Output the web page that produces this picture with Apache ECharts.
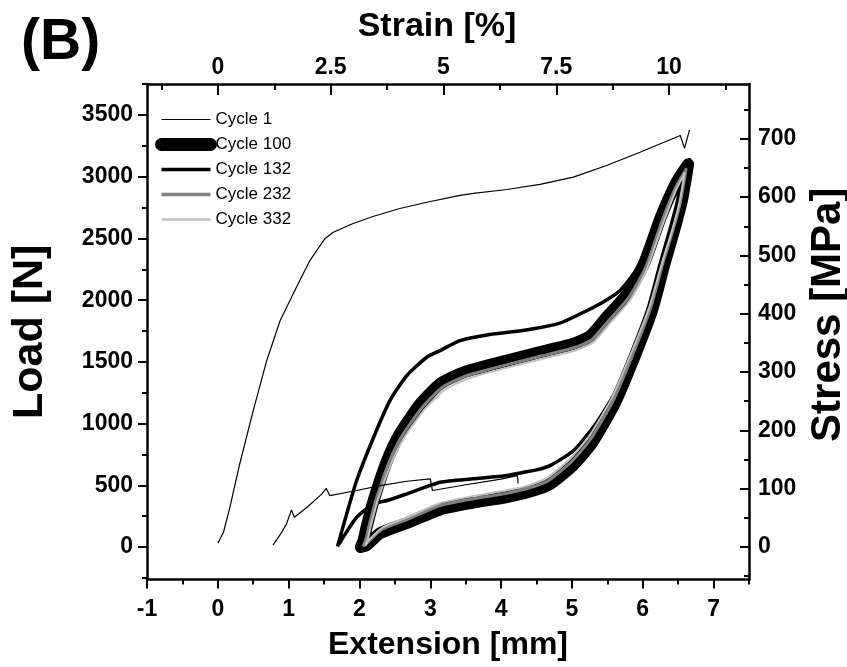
<!DOCTYPE html>
<html><head><meta charset="utf-8">
<script src="https://cdn.jsdelivr.net/npm/echarts@6/dist/echarts.min.js"></script>
<style>html,body{margin:0;padding:0;background:#fff}#c{width:847px;height:667px}</style>
</head><body><div id="c"></div>
<script>
// ---- tick labels ----
const extTicks = [-1, 0, 1, 2, 3, 4, 5, 6, 7];
const extMinor = [-0.5, 0.5, 1.5, 2.5, 3.5, 4.5, 5.5, 6.5, 7.5];
const strainTicks = [0, 2.5, 5, 7.5, 10];
const strainMinor = [-1.25, 1.25, 3.75, 6.25, 8.75, 11.25];
const loadTicks = [0, 500, 1000, 1500, 2000, 2500, 3000, 3500];
const loadMinor = [-250, 250, 750, 1250, 1750, 2250, 2750, 3250, 3750];
const stressTicks = [0, 100, 200, 300, 400, 500, 600, 700];
const stressMinor = [-50, 50, 150, 250, 350, 450, 550, 650, 750];

// ---- series names ----
const seriesNames = ['Cycle 1', 'Cycle 100', 'Cycle 132', 'Cycle 232', 'Cycle 332'];

// ---- data: [extension mm, load N] ----
const cycle1 = [[0.00,30],[0.08,120],[0.17,322],[0.31,675],[0.50,1105],[0.69,1510],[0.88,1836],[1.11,2105],[1.30,2321],[1.51,2498],[1.63,2551],[1.91,2622],[2.19,2678],[2.57,2743],[2.95,2794],[3.42,2849],[3.61,2865],[4.08,2897],[4.55,2938],[5.02,2997],[5.49,3092],[5.96,3199],[6.53,3335],[6.59,3230],[6.66,3381]];
const cycle1b = [[0.78,15],[0.88,100],[0.97,188],[1.04,301],[1.08,241],[1.26,322],[1.47,431],[1.53,476],[1.58,417],[1.96,458],[2.29,498],[2.67,533],[3.00,553],[3.03,458],[3.50,505],[4.00,550],[4.23,578],[4.24,515]];
const cycle100 = [[2.02,0],[2.06,60],[2.10,160],[2.20,377],[2.39,701],[2.57,917],[2.86,1160],[3.14,1323],[3.42,1404],[3.61,1440],[4.08,1511],[4.55,1579],[5.02,1647],[5.26,1710],[5.49,1862],[5.78,2052],[6.02,2300],[6.26,2680],[6.48,2960],[6.64,3100],
  [6.55,2800],[6.44,2560],[6.31,2300],[6.13,1917],[5.89,1552],[5.61,1171],[5.29,850],[5.02,665],[4.69,510],[4.41,450],[4.08,405],[3.61,360],[3.14,305],[2.67,195],[2.29,112],[2.10,15],[2.02,0]];
const cycle132 = [[1.69,5],[1.82,269],[1.96,539],[2.20,890],[2.43,1187],[2.67,1390],[2.95,1538],[3.14,1592],[3.42,1673],[3.84,1722],[4.31,1754],[4.83,1814],[5.12,1890],[5.40,1971],[5.68,2079],[5.96,2290],[6.20,2640],[6.45,2950],[6.66,3140],
  [6.52,2800],[6.39,2500],[6.20,2080],[5.96,1700],[5.68,1320],[5.35,1010],[5.02,780],[4.69,660],[4.50,625],[4.36,610],[4.08,580],[3.61,553],[3.14,525],[2.67,431],[2.39,377],[2.20,350],[1.96,241],[1.77,79],[1.69,5]];
const cycle232 = [[2.05,5],[2.09,60],[2.13,160],[2.23,377],[2.42,690],[2.60,900],[2.89,1135],[3.17,1295],[3.45,1375],[3.64,1410],[4.10,1480],[4.57,1548],[5.04,1617],[5.28,1680],[5.51,1830],[5.80,2020],[6.04,2265],[6.27,2640],[6.47,2920],[6.61,3060],
  [6.53,2790],[6.42,2555],[6.29,2310],[6.11,1935],[5.87,1575],[5.59,1195],[5.27,880],[5.00,695],[4.67,540],[4.40,480],[4.07,435],[3.60,390],[3.13,335],[2.68,225],[2.31,140],[2.12,40],[2.05,5]];
const cycle332 = [[2.08,10],[2.12,70],[2.16,170],[2.26,380],[2.45,680],[2.63,885],[2.92,1115],[3.20,1272],[3.48,1352],[3.66,1388],[4.12,1458],[4.59,1526],[5.06,1595],[5.30,1660],[5.53,1810],[5.82,2000],[6.05,2240],[6.28,2610],[6.46,2880],[6.59,3030],
  [6.51,2770],[6.40,2540],[6.27,2300],[6.09,1940],[5.85,1590],[5.57,1215],[5.25,905],[4.98,720],[4.66,565],[4.39,500],[4.06,458],[3.60,412],[3.13,355],[2.69,245],[2.33,160],[2.14,60],[2.08,10]];

const FONT = 'Liberation Sans';
const lblStyle = {fontFamily: FONT, fontWeight: 'bold', fontSize: 23, color: '#000', formatter: v => String(v)};
const hNameStyle = {fontFamily: FONT, fontWeight: 'bold', fontSize: 32, color: '#000'};
const vNameStyle = {fontFamily: FONT, fontWeight: 'bold', fontSize: 42, color: '#000'};
const lineAx = {show: true, onZero: false, lineStyle: {color: '#000', width: 2.5}};
const tickStyle = {color: '#000', width: 2};

function minorAxis(extra) {
  return Object.assign({
    type: 'value', gridIndex: 0,
    axisLine: {show: false, onZero: false}, splitLine: {show: false},
    axisLabel: {show: false}
  }, extra);
}

const chart = echarts.init(document.getElementById('c'), null, {renderer: 'canvas'});
chart.setOption({
  animation: false,
  backgroundColor: '#fff',
  grid: {left: 147, right: 98, top: 84, bottom: 87.5, containLabel: false, outerBoundsMode: 'none'},
  graphic: [{type: 'text', left: 21, top: 15, style: {text: '(B)', font: 'bold 57px "Liberation Sans"', fill: '#000'}}],
  legend: {
    data: [
      {name: 'Cycle 1', lineStyle: {width: 1.2, color: '#000'}},
      {name: 'Cycle 100', lineStyle: {width: 13, color: '#000', cap: 'round'}},
      {name: 'Cycle 132', lineStyle: {width: 3.5, color: '#000'}},
      {name: 'Cycle 232', lineStyle: {width: 3.5, color: '#808080'}},
      {name: 'Cycle 332', lineStyle: {width: 2.5, color: '#c0c0c0'}}
    ],
    left: 155, top: 111, orient: 'vertical', padding: 0,
    itemWidth: 49, itemHeight: 14, itemGap: 8,
    itemStyle: {opacity: 0, color: 'rgba(0,0,0,0)', borderWidth: 0},
    textStyle: {fontFamily: FONT, fontSize: 17, color: '#000'}
  },
  xAxis: [
    {type: 'value', position: 'bottom', min: -1, max: 7.5,
     name: 'Extension [mm]', nameLocation: 'middle', nameGap: 50, nameTextStyle: hNameStyle,
     axisLine: lineAx, splitLine: {show: false},
     axisTick: {show: true, length: 9, customValues: extTicks, lineStyle: tickStyle},
     axisLabel: Object.assign({customValues: extTicks, margin: 19}, lblStyle)},
    {type: 'value', position: 'top', min: -1.57, max: 11.77,
     name: 'Strain [%]', nameLocation: 'middle', nameGap: 40,
     nameTextStyle: Object.assign({}, hNameStyle, {fontSize: 34, padding: [0, 22, 0, 0]}),
     axisLine: lineAx, splitLine: {show: false},
     axisTick: {show: true, inside: true, length: 11, customValues: strainTicks, lineStyle: tickStyle},
     axisLabel: Object.assign({customValues: strainTicks, margin: 5}, lblStyle)},
    minorAxis({position: 'bottom', min: -1, max: 7.5, axisTick: {show: true, length: 5, customValues: extMinor, lineStyle: tickStyle}}),
    minorAxis({position: 'top', min: -1.57, max: 11.77, axisTick: {show: true, inside: true, length: 6, customValues: strainMinor, lineStyle: tickStyle}})
  ],
  yAxis: [
    {type: 'value', position: 'left', min: -263, max: 3752,
     name: 'Load [N]', nameLocation: 'middle', nameGap: 95, nameRotate: 90, nameTextStyle: Object.assign({}, vNameStyle, {fontSize: 43}),
     axisLine: lineAx, splitLine: {show: false},
     axisTick: {show: true, length: 9, customValues: loadTicks, lineStyle: tickStyle},
     axisLabel: Object.assign({customValues: loadTicks, margin: 14}, lblStyle)},
    {type: 'value', position: 'right', min: -55.7, max: 794,
     name: 'Stress [MPa]', nameLocation: 'middle', nameGap: 55, nameRotate: 90,
     nameTextStyle: Object.assign({}, vNameStyle, {padding: [0, 0, 0, 34]}),
     axisLine: lineAx, splitLine: {show: false},
     axisTick: {show: true, inside: true, length: 9, customValues: stressTicks, lineStyle: tickStyle},
     axisLabel: Object.assign({customValues: stressTicks, margin: 9}, lblStyle)},
    minorAxis({position: 'left', min: -263, max: 3752, axisTick: {show: true, length: 5, customValues: loadMinor, lineStyle: tickStyle}}),
    minorAxis({position: 'right', min: -55.7, max: 794, axisTick: {show: true, inside: true, length: 5, customValues: stressMinor, lineStyle: tickStyle}})
  ],
  series: [
    {name: 'Cycle 1', type: 'line', data: cycle1, symbol: 'none', lineStyle: {color: '#000', width: 1.2}, itemStyle: {color: '#000'}, z: 5},
    {name: 'Cycle 1', type: 'line', data: cycle1b, symbol: 'none', lineStyle: {color: '#000', width: 1.2}, itemStyle: {color: '#000'}, z: 5},
    {name: 'Cycle 100', type: 'line', data: cycle100, smooth: 0.2, symbol: 'none', lineStyle: {color: '#000', width: 12, cap: 'round', join: 'round'}, itemStyle: {color: '#000'}, z: 2},
    {name: 'Cycle 132', type: 'line', data: cycle132, smooth: 0.2, symbol: 'none', lineStyle: {color: '#000', width: 3.5, join: 'round'}, itemStyle: {color: '#000'}, z: 3},
    {name: 'Cycle 232', type: 'line', data: cycle232, smooth: 0.2, symbol: 'none', lineStyle: {color: '#808080', width: 3, join: 'round'}, itemStyle: {color: '#808080'}, z: 4},
    {name: 'Cycle 332', type: 'line', data: cycle332, smooth: 0.2, symbol: 'none', lineStyle: {color: '#c0c0c0', width: 2, join: 'round'}, itemStyle: {color: '#c0c0c0'}, z: 4}
  ]
});
</script></body></html>
